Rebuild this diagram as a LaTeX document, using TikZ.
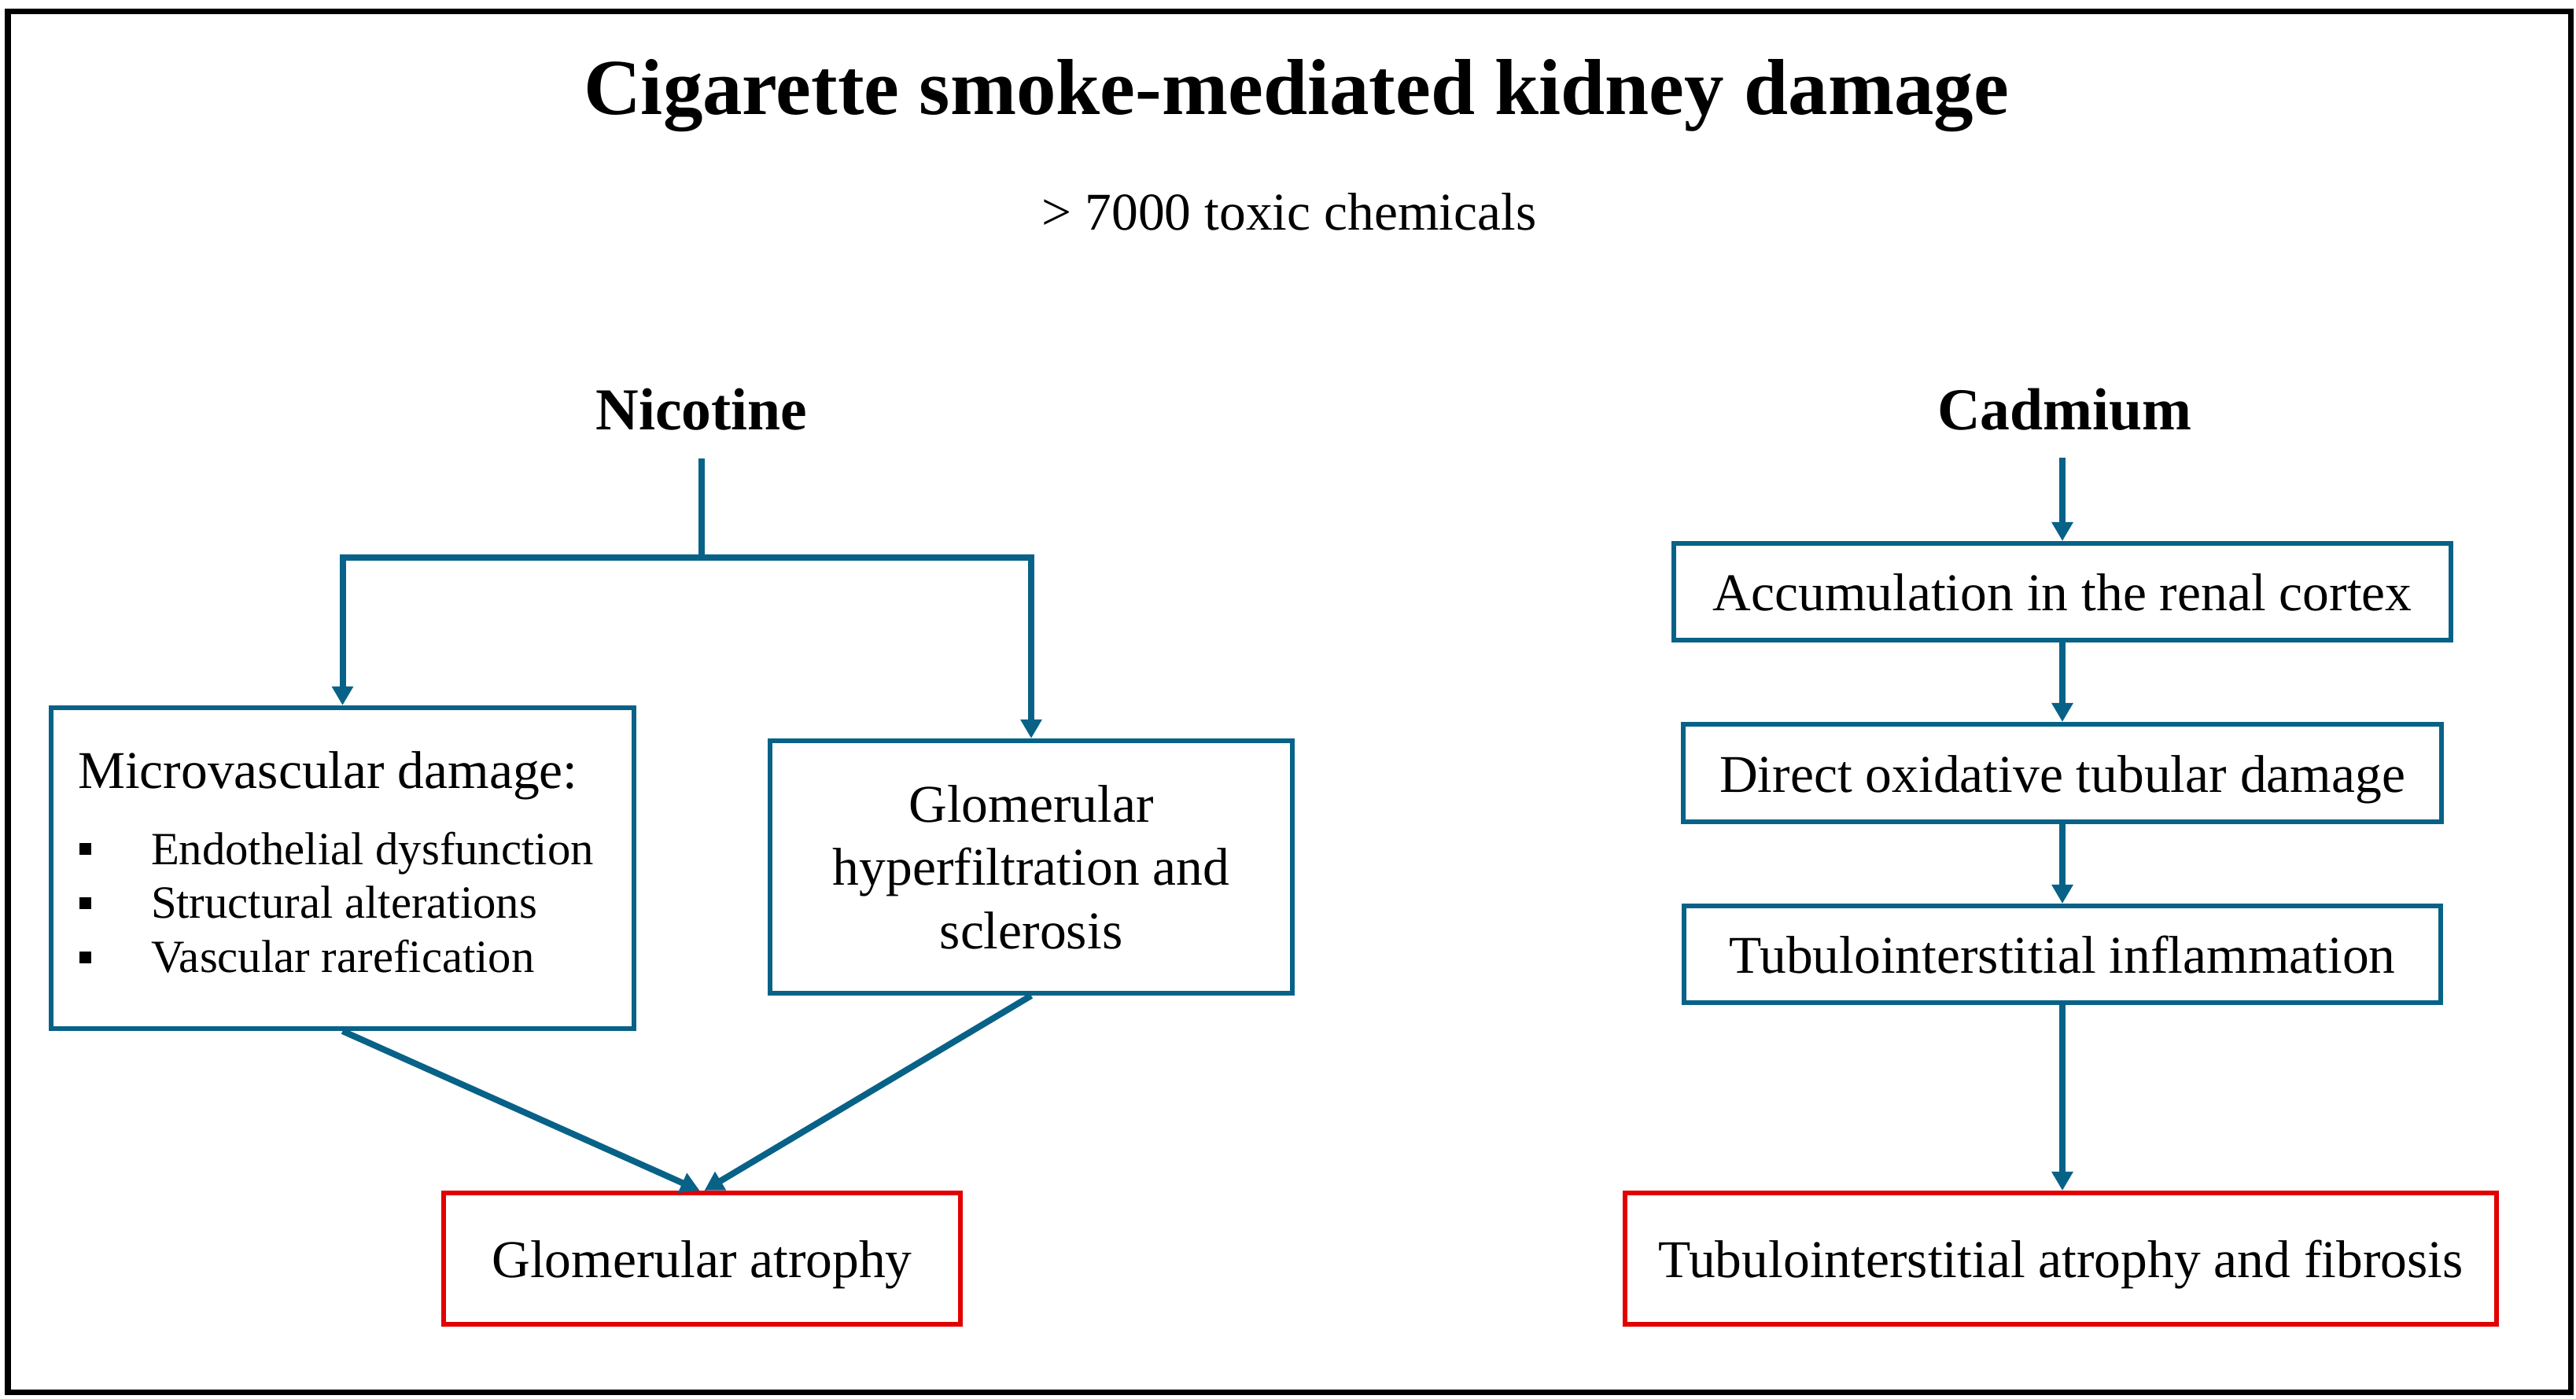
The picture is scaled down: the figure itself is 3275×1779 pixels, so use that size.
\documentclass[tikz,border=0pt]{standalone}
\usepackage{fontspec}
\setmainfont{Liberation Serif}
\usetikzlibrary{arrows.meta}
\newlength{\pxu}\setlength{\pxu}{0.01cm}
\definecolor{cblue}{RGB}{8,98,136}
\definecolor{cred}{RGB}{226,0,0}
\newcommand{\sqbullet}{\makebox[93\pxu][l]{\hspace{2\pxu}\raisebox{12\pxu}{\rule{15\pxu}{15\pxu}}}}
\begin{document}
\begin{tikzpicture}[x=0.01cm,y=-0.01cm,
  txt/.style={font=\fontsize{19.2}{22.9}\selectfont, text=black},
  bluebox/.style={draw=cblue, line width=0.06cm, txt, inner sep=0pt},
  redbox/.style={draw=cred, line width=0.06cm, txt, inner sep=0pt},
  oneline/.style={text height=0.62cm, text depth=0.14cm},
  conn/.style={draw=cblue, line width=0.08cm},
  arr/.style={conn, -{Triangle[length=0.24cm,width=0.26cm]}},
  heading/.style={anchor=base, font=\bfseries\fontsize{21.5}{26}\selectfont}
]
\useasboundingbox (0,0) rectangle (3275,1779);
\draw[line width=0.07cm] (10,15) rectangle (3268,1770);

% titles
\node[anchor=base, font=\bfseries\fontsize{28.7}{34}\selectfont] (title) at (1648,146) {Cigarette smoke-mediated kidney damage};
\node[anchor=base, txt] (sub) at (1639,292) {> 7000 toxic chemicals};
\node[heading] (nic) at (892,546) {Nicotine};
\node[heading] (cad) at (2625,546) {Cadmium};

% nicotine branch
\node[bluebox, inner xsep=0.34cm, minimum width=7.41cm, minimum height=4.08cm] (mv) at (435.5,1104) {%
\begin{minipage}{673\pxu}
\fontsize{19.2}{22.9}\selectfont Microvascular damage:\par
\fontsize{16.7}{19.5}\selectfont\vspace{28.5\pxu}%
\sqbullet Endothelial dysfunction\par
\sqbullet Structural alterations\par
\sqbullet Vascular rarefication\rule[-16\pxu]{0pt}{16\pxu}\par
\end{minipage}};
\node[bluebox, align=center, minimum width=6.64cm, minimum height=3.21cm] (gh) at (1311,1102.5) {Glomerular\\hyperfiltration and\\sclerosis};
\node[redbox, oneline, minimum width=6.57cm, minimum height=1.67cm] (ga) at (892.5,1600.5) {Glomerular atrophy};

% cadmium branch
\node[bluebox, oneline, minimum width=9.87cm, minimum height=1.23cm] (acc) at (2622,752.5) {Accumulation in the renal cortex};
\node[bluebox, oneline, minimum width=9.63cm, minimum height=1.24cm] (dox) at (2622,983) {Direct oxidative tubular damage};
\node[bluebox, oneline, minimum width=9.62cm, minimum height=1.23cm] (tin) at (2622,1213.5) {Tubulointerstitial inflammation};
\node[redbox, oneline, minimum width=11.08cm, minimum height=1.67cm] (taf) at (2620,1600.5) {Tubulointerstitial atrophy and fibrosis};

% connectors
\coordinate (nicstart) at (892,583);
\coordinate (nj) at (892,709);
\draw[conn] (nicstart) -- (nj);
\draw[arr] (nj) -| (mv.north);
\draw[arr] (nj) -| (gh.north);
\draw[arr] (mv.south) -- ([xshift=-0.03cm]ga.north);
\draw[arr] (gh.south) -- ([xshift=0.03cm]ga.north);

\coordinate (cadstart) at (2622,582);
\draw[arr] (cadstart) -- (acc.north);
\draw[arr] (acc.south) -- (dox.north);
\draw[arr] (dox.south) -- (tin.north);
\draw[arr] (tin.south) -- (taf.north -| tin.south);
\end{tikzpicture}
\end{document}
